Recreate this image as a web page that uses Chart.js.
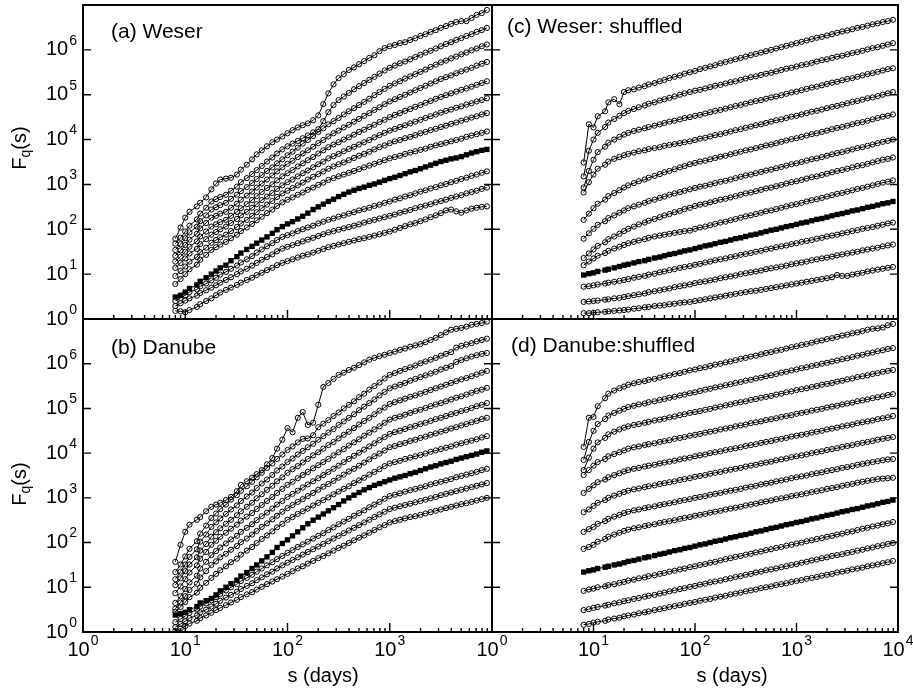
<!DOCTYPE html>
<html lang="en">
<head>
<meta charset="UTF-8" />
<title>Fq(s) - Weser / Danube</title>
<script src="https://cdn.jsdelivr.net/npm/chart.js@4.4.1/dist/chart.umd.min.js"></script>
<style>
    body { margin: 0; background: #fff; }
    #wrap { position: relative; width: 913px; height: 693px; }
    #wrap canvas { position: absolute; left: 0; top: 0; }
</style>
</head>
<body>
<div id="wrap">
    <canvas id="pa" width="913" height="693"></canvas>
    <canvas id="pb" width="913" height="693"></canvas>
    <canvas id="pc" width="913" height="693"></canvas>
    <canvas id="pd" width="913" height="693"></canvas>
</div>
<script>
// === Data ===
// window size s (days), same for every curve
const S_DAYS = [8, 9, 10, 11, 13, 14, 16, 18, 20, 22, 25, 28, 32, 35, 40, 45, 50, 56, 63, 71,
    79, 89, 100, 112, 126, 141, 158, 178, 200, 224, 251, 282, 316, 355, 398, 447, 501, 562, 631, 708,
    794, 891, 1000, 1122, 1259, 1413, 1585, 1778, 1995, 2239, 2512, 2818, 3162, 3548, 3981, 4467, 5012,
    5623, 6310, 7079, 7943, 8913];

// All curves are log10 Fq(s) (curves are shifted vertically as in the figure).
// Open-circle curves listed top to bottom; the filled-square curve is kept apart.

// (a) Weser
const weserCircles = [
    [1.79,2.04,2.26,2.39,2.51,2.59,2.71,2.89,3.02,3.11,3.13,3.15,3.22,3.33,3.44,3.56,3.67,3.76,3.85,3.94,4.00,4.07,4.14,4.21,4.27,4.32,4.36,4.43,4.54,4.79,5.03,5.23,5.37,5.46,5.55,5.61,5.68,5.75,5.82,5.88,5.97,6.04,6.08,6.11,6.15,6.17,6.22,6.26,6.31,6.35,6.40,6.44,6.49,6.53,6.58,6.62,6.64,6.64,6.71,6.78,6.82,6.89],
    [1.68,1.81,1.95,2.08,2.22,2.35,2.48,2.62,2.67,2.72,2.77,2.86,2.95,3.05,3.14,3.23,3.32,3.41,3.51,3.60,3.69,3.78,3.85,3.91,3.97,4.03,4.09,4.16,4.23,4.41,4.61,4.77,4.88,4.96,5.04,5.12,5.19,5.26,5.33,5.40,5.47,5.54,5.60,5.65,5.70,5.74,5.79,5.84,5.89,5.94,5.98,6.03,6.08,6.13,6.17,6.22,6.26,6.31,6.35,6.40,6.44,6.49],
    [1.54,1.67,1.80,1.93,2.06,2.18,2.31,2.44,2.49,2.54,2.59,2.68,2.77,2.85,2.94,3.03,3.12,3.21,3.30,3.38,3.47,3.56,3.65,3.73,3.82,3.91,3.99,4.08,4.17,4.25,4.34,4.41,4.48,4.56,4.63,4.70,4.77,4.84,4.91,4.99,5.06,5.13,5.20,5.25,5.30,5.36,5.41,5.46,5.51,5.56,5.62,5.67,5.72,5.76,5.81,5.85,5.90,5.94,5.99,6.03,6.08,6.12],
    [1.41,1.53,1.65,1.77,1.90,2.02,2.14,2.26,2.30,2.35,2.39,2.48,2.57,2.66,2.75,2.84,2.93,3.02,3.11,3.20,3.29,3.38,3.46,3.53,3.61,3.69,3.76,3.84,3.92,3.99,4.07,4.14,4.20,4.27,4.33,4.40,4.46,4.53,4.59,4.66,4.72,4.79,4.85,4.90,4.95,5.00,5.05,5.10,5.15,5.20,5.25,5.30,5.35,5.39,5.43,5.48,5.52,5.56,5.60,5.65,5.69,5.73],
    [1.28,1.39,1.50,1.61,1.73,1.84,1.95,2.06,2.11,2.16,2.21,2.30,2.39,2.47,2.56,2.65,2.74,2.83,2.92,3.00,3.09,3.18,3.25,3.32,3.40,3.47,3.54,3.61,3.69,3.76,3.83,3.89,3.94,4.00,4.05,4.11,4.17,4.22,4.28,4.33,4.39,4.44,4.50,4.55,4.59,4.64,4.68,4.73,4.77,4.82,4.86,4.91,4.95,4.99,5.03,5.07,5.11,5.14,5.18,5.22,5.26,5.30],
    [1.14,1.25,1.35,1.46,1.56,1.67,1.78,1.88,1.94,2.00,2.06,2.14,2.23,2.31,2.39,2.48,2.56,2.65,2.73,2.81,2.90,2.98,3.05,3.11,3.18,3.25,3.31,3.38,3.45,3.51,3.58,3.63,3.68,3.74,3.79,3.84,3.89,3.94,3.99,4.05,4.10,4.15,4.20,4.24,4.28,4.32,4.36,4.40,4.44,4.48,4.52,4.56,4.60,4.64,4.67,4.71,4.74,4.78,4.81,4.85,4.88,4.92],
    [0.96,1.07,1.17,1.28,1.38,1.49,1.59,1.70,1.76,1.82,1.88,1.96,2.05,2.13,2.21,2.30,2.38,2.47,2.55,2.63,2.72,2.80,2.86,2.92,2.98,3.04,3.11,3.17,3.23,3.29,3.35,3.40,3.45,3.49,3.54,3.59,3.64,3.68,3.73,3.78,3.83,3.87,3.92,3.96,3.99,4.03,4.06,4.10,4.14,4.17,4.21,4.24,4.28,4.31,4.35,4.38,4.42,4.45,4.49,4.52,4.56,4.59],
    [0.78,0.89,1.00,1.11,1.21,1.32,1.43,1.54,1.60,1.66,1.72,1.80,1.88,1.96,2.04,2.12,2.20,2.28,2.36,2.44,2.52,2.60,2.66,2.71,2.77,2.82,2.88,2.93,2.99,3.04,3.10,3.14,3.18,3.22,3.26,3.30,3.34,3.38,3.42,3.46,3.50,3.54,3.58,3.61,3.64,3.68,3.71,3.74,3.77,3.80,3.84,3.87,3.90,3.93,3.96,3.99,4.02,4.06,4.09,4.12,4.15,4.18],
    [0.40,0.47,0.53,0.60,0.66,0.73,0.79,0.86,0.92,0.99,1.05,1.12,1.19,1.26,1.33,1.40,1.48,1.55,1.62,1.69,1.76,1.83,1.87,1.91,1.96,2.00,2.04,2.08,2.13,2.17,2.21,2.24,2.28,2.31,2.35,2.38,2.42,2.45,2.48,2.52,2.55,2.59,2.62,2.66,2.69,2.73,2.76,2.80,2.84,2.87,2.91,2.94,2.98,3.01,3.05,3.08,3.12,3.15,3.19,3.22,3.26,3.29],
    [0.29,0.35,0.41,0.46,0.52,0.58,0.64,0.70,0.75,0.81,0.87,0.93,1.00,1.06,1.12,1.19,1.25,1.32,1.38,1.44,1.51,1.57,1.61,1.65,1.69,1.73,1.77,1.81,1.85,1.89,1.93,1.96,1.99,2.02,2.05,2.08,2.11,2.15,2.18,2.21,2.24,2.27,2.30,2.33,2.37,2.40,2.43,2.47,2.50,2.53,2.56,2.60,2.63,2.66,2.70,2.73,2.76,2.80,2.83,2.86,2.90,2.93],
    [0.18,0.17,0.15,0.20,0.27,0.33,0.40,0.46,0.53,0.59,0.65,0.70,0.76,0.81,0.87,0.92,0.98,1.03,1.09,1.14,1.20,1.25,1.29,1.33,1.37,1.41,1.44,1.48,1.52,1.56,1.60,1.63,1.66,1.69,1.72,1.75,1.78,1.80,1.83,1.86,1.89,1.92,1.95,1.99,2.03,2.07,2.11,2.14,2.18,2.22,2.27,2.31,2.36,2.42,2.44,2.40,2.37,2.42,2.46,2.48,2.50,2.51]
];
const weserSquares = [0.49,0.53,0.60,0.68,0.76,0.84,0.92,1.00,1.07,1.14,1.20,1.30,1.39,1.47,1.55,1.62,1.69,1.76,1.83,1.91,1.99,2.06,2.12,2.17,2.23,2.29,2.36,2.44,2.50,2.56,2.62,2.67,2.73,2.78,2.83,2.87,2.91,2.94,2.98,3.01,3.05,3.09,3.13,3.16,3.20,3.24,3.28,3.31,3.35,3.39,3.43,3.47,3.51,3.54,3.57,3.59,3.62,3.66,3.70,3.73,3.76,3.78];

// (b) Danube
const danubeCircles = [
    [1.57,1.95,2.24,2.40,2.51,2.57,2.70,2.80,2.85,2.89,2.95,3.02,3.15,3.29,3.37,3.45,3.53,3.62,3.75,3.89,4.10,4.30,4.56,4.47,4.79,4.92,4.63,4.68,5.08,5.48,5.57,5.66,5.75,5.80,5.86,5.91,5.97,6.03,6.09,6.13,6.17,6.20,6.24,6.27,6.31,6.34,6.38,6.41,6.44,6.48,6.53,6.58,6.64,6.70,6.76,6.78,6.80,6.83,6.87,6.89,6.91,6.94],
    [1.34,1.51,1.69,1.86,2.03,2.20,2.38,2.55,2.65,2.75,2.85,2.96,3.06,3.16,3.26,3.36,3.46,3.56,3.67,3.77,3.87,3.97,4.07,4.15,4.24,4.32,4.33,4.40,4.58,4.66,4.74,4.83,4.91,5.00,5.08,5.16,5.25,5.33,5.42,5.50,5.58,5.67,5.75,5.79,5.84,5.88,5.92,5.96,6.01,6.05,6.09,6.13,6.18,6.22,6.26,6.36,6.40,6.43,6.46,6.50,6.53,6.56],
    [1.18,1.35,1.51,1.68,1.85,2.02,2.18,2.35,2.45,2.54,2.64,2.74,2.83,2.93,3.03,3.12,3.22,3.32,3.41,3.51,3.61,3.70,3.80,3.88,3.97,4.05,4.13,4.21,4.30,4.38,4.46,4.54,4.63,4.71,4.79,4.87,4.96,5.04,5.12,5.20,5.29,5.37,5.45,5.49,5.53,5.57,5.62,5.66,5.70,5.74,5.78,5.82,5.87,5.91,5.95,6.04,6.08,6.12,6.16,6.19,6.22,6.24],
    [1.05,1.20,1.36,1.51,1.67,1.82,1.97,2.13,2.23,2.32,2.42,2.51,2.61,2.70,2.80,2.89,2.99,3.08,3.18,3.27,3.37,3.46,3.56,3.64,3.71,3.79,3.87,3.95,4.02,4.10,4.18,4.25,4.33,4.41,4.48,4.56,4.64,4.72,4.79,4.87,4.95,5.02,5.10,5.14,5.18,5.22,5.26,5.29,5.33,5.37,5.41,5.45,5.49,5.53,5.57,5.61,5.65,5.68,5.72,5.76,5.80,5.84],
    [0.87,1.02,1.18,1.33,1.49,1.64,1.79,1.95,2.04,2.13,2.22,2.31,2.40,2.49,2.58,2.66,2.75,2.84,2.93,3.02,3.11,3.20,3.29,3.36,3.44,3.51,3.58,3.66,3.73,3.80,3.87,3.95,4.02,4.09,4.17,4.24,4.31,4.39,4.46,4.53,4.60,4.68,4.75,4.79,4.82,4.86,4.90,4.94,4.97,5.01,5.05,5.09,5.12,5.16,5.20,5.24,5.27,5.31,5.35,5.39,5.42,5.46],
    [0.65,0.80,0.96,1.11,1.26,1.42,1.57,1.72,1.81,1.89,1.98,2.07,2.15,2.24,2.33,2.41,2.50,2.59,2.67,2.76,2.85,2.93,3.02,3.09,3.16,3.23,3.30,3.37,3.44,3.51,3.58,3.65,3.72,3.80,3.87,3.94,4.01,4.08,4.15,4.22,4.29,4.36,4.43,4.47,4.50,4.54,4.58,4.61,4.65,4.68,4.72,4.76,4.79,4.83,4.87,4.90,4.94,4.97,5.01,5.05,5.08,5.12],
    [0.52,0.66,0.80,0.94,1.08,1.22,1.36,1.50,1.58,1.67,1.75,1.84,1.92,2.01,2.09,2.18,2.26,2.35,2.43,2.52,2.60,2.69,2.77,2.84,2.91,2.97,3.04,3.11,3.18,3.25,3.31,3.38,3.45,3.52,3.59,3.65,3.72,3.79,3.86,3.93,3.99,4.06,4.13,4.16,4.20,4.23,4.27,4.30,4.34,4.37,4.41,4.44,4.48,4.51,4.55,4.58,4.62,4.65,4.69,4.72,4.76,4.79],
    [0.45,0.56,0.67,0.78,0.88,0.99,1.10,1.21,1.30,1.38,1.47,1.56,1.64,1.73,1.82,1.90,1.99,2.08,2.16,2.25,2.34,2.42,2.51,2.57,2.64,2.70,2.76,2.83,2.89,2.95,3.01,3.08,3.14,3.20,3.26,3.33,3.39,3.45,3.52,3.58,3.64,3.71,3.77,3.80,3.83,3.87,3.90,3.93,3.96,3.99,4.03,4.06,4.09,4.12,4.15,4.19,4.22,4.25,4.28,4.31,4.35,4.38],
    [0.22,0.29,0.36,0.43,0.50,0.57,0.64,0.71,0.78,0.85,0.93,1.00,1.07,1.14,1.21,1.28,1.35,1.42,1.49,1.56,1.63,1.70,1.77,1.83,1.90,1.96,2.02,2.09,2.15,2.21,2.28,2.34,2.41,2.47,2.53,2.60,2.66,2.72,2.79,2.85,2.91,2.98,3.04,3.07,3.10,3.14,3.17,3.20,3.23,3.26,3.30,3.33,3.36,3.39,3.42,3.46,3.49,3.52,3.55,3.58,3.62,3.65],
    [0.11,0.18,0.24,0.31,0.37,0.44,0.50,0.57,0.63,0.70,0.77,0.83,0.90,0.96,1.03,1.09,1.16,1.22,1.29,1.35,1.42,1.49,1.55,1.61,1.67,1.73,1.79,1.85,1.91,1.97,2.03,2.09,2.15,2.21,2.27,2.33,2.39,2.45,2.51,2.57,2.63,2.69,2.75,2.78,2.81,2.84,2.87,2.90,2.93,2.96,2.99,3.02,3.06,3.09,3.12,3.15,3.18,3.21,3.24,3.27,3.30,3.33],
    [0.02,0.08,0.13,0.19,0.25,0.31,0.37,0.43,0.49,0.54,0.60,0.66,0.72,0.78,0.84,0.89,0.95,1.01,1.07,1.13,1.18,1.24,1.30,1.36,1.42,1.47,1.53,1.59,1.65,1.70,1.76,1.82,1.88,1.93,1.99,2.05,2.11,2.16,2.22,2.28,2.34,2.39,2.45,2.48,2.51,2.54,2.57,2.59,2.62,2.65,2.68,2.71,2.74,2.77,2.80,2.83,2.86,2.88,2.91,2.94,2.97,3.00]
];
const danubeSquares = [0.38,0.41,0.44,0.50,0.57,0.65,0.70,0.75,0.83,0.92,1.00,1.08,1.16,1.25,1.33,1.42,1.50,1.59,1.68,1.78,1.89,1.98,2.06,2.15,2.24,2.33,2.42,2.50,2.57,2.64,2.71,2.78,2.85,2.93,3.00,3.06,3.12,3.18,3.23,3.28,3.32,3.36,3.40,3.44,3.47,3.50,3.54,3.57,3.61,3.65,3.69,3.72,3.76,3.79,3.82,3.86,3.89,3.92,3.95,3.98,4.02,4.05];

// (c) Weser: shuffled
const weserShufCircles = [
    [3.49,4.34,4.27,4.52,4.63,4.83,4.90,4.79,5.06,5.10,5.12,5.16,5.19,5.23,5.26,5.30,5.33,5.37,5.40,5.43,5.47,5.50,5.53,5.57,5.60,5.63,5.66,5.70,5.73,5.76,5.79,5.82,5.85,5.88,5.91,5.94,5.97,6.00,6.03,6.06,6.09,6.12,6.15,6.18,6.21,6.24,6.27,6.29,6.32,6.35,6.38,6.41,6.43,6.46,6.49,6.51,6.54,6.57,6.59,6.62,6.64,6.67],
    [3.18,3.75,4.00,4.15,4.28,4.38,4.46,4.53,4.59,4.64,4.68,4.72,4.76,4.80,4.83,4.87,4.90,4.93,4.96,5.00,5.03,5.06,5.09,5.11,5.14,5.17,5.20,5.22,5.25,5.28,5.30,5.33,5.36,5.39,5.41,5.44,5.47,5.49,5.52,5.55,5.58,5.60,5.63,5.66,5.68,5.71,5.74,5.77,5.79,5.82,5.85,5.87,5.90,5.93,5.95,5.98,6.01,6.04,6.06,6.09,6.12,6.15],
    [2.93,3.30,3.55,3.72,3.84,3.93,4.00,4.06,4.11,4.15,4.19,4.22,4.25,4.28,4.31,4.34,4.37,4.40,4.42,4.45,4.48,4.50,4.53,4.55,4.58,4.61,4.64,4.66,4.69,4.72,4.75,4.77,4.80,4.83,4.86,4.88,4.91,4.94,4.96,4.99,5.02,5.05,5.07,5.10,5.13,5.16,5.18,5.21,5.24,5.27,5.29,5.32,5.35,5.37,5.40,5.43,5.46,5.48,5.51,5.54,5.57,5.59],
    [2.82,3.05,3.22,3.35,3.44,3.51,3.57,3.61,3.65,3.68,3.71,3.74,3.76,3.79,3.81,3.83,3.86,3.88,3.90,3.92,3.94,3.96,3.99,4.02,4.04,4.07,4.10,4.12,4.15,4.18,4.21,4.23,4.26,4.29,4.32,4.34,4.37,4.40,4.43,4.45,4.48,4.51,4.53,4.56,4.59,4.62,4.64,4.67,4.70,4.73,4.75,4.78,4.81,4.84,4.86,4.89,4.92,4.94,4.97,5.00,5.03,5.06],
    [2.21,2.35,2.47,2.57,2.66,2.74,2.81,2.87,2.93,2.98,3.03,3.07,3.11,3.15,3.19,3.23,3.27,3.30,3.34,3.38,3.41,3.45,3.48,3.51,3.53,3.56,3.59,3.62,3.64,3.67,3.70,3.73,3.76,3.78,3.81,3.84,3.87,3.89,3.92,3.95,3.98,4.01,4.03,4.06,4.09,4.12,4.14,4.17,4.20,4.23,4.26,4.28,4.31,4.34,4.37,4.39,4.42,4.45,4.48,4.51,4.53,4.56],
    [1.79,1.91,2.01,2.10,2.18,2.25,2.31,2.37,2.42,2.47,2.51,2.55,2.59,2.63,2.66,2.70,2.73,2.77,2.80,2.83,2.86,2.89,2.92,2.95,2.97,3.00,3.03,3.06,3.08,3.11,3.14,3.17,3.20,3.22,3.25,3.28,3.31,3.33,3.36,3.39,3.42,3.45,3.47,3.50,3.53,3.56,3.58,3.61,3.64,3.67,3.70,3.72,3.75,3.78,3.81,3.83,3.86,3.89,3.92,3.95,3.97,4.00],
    [1.36,1.46,1.55,1.63,1.71,1.78,1.84,1.90,1.96,2.01,2.06,2.11,2.15,2.19,2.23,2.27,2.31,2.34,2.38,2.41,2.45,2.48,2.52,2.55,2.57,2.60,2.63,2.66,2.68,2.71,2.74,2.77,2.80,2.82,2.85,2.88,2.91,2.93,2.96,2.99,3.02,3.05,3.07,3.10,3.13,3.16,3.18,3.21,3.24,3.27,3.30,3.32,3.35,3.38,3.41,3.43,3.46,3.49,3.52,3.55,3.57,3.60],
    [1.20,1.28,1.35,1.41,1.47,1.52,1.57,1.61,1.65,1.69,1.72,1.75,1.78,1.81,1.84,1.86,1.88,1.90,1.92,1.94,1.96,1.97,2.01,2.04,2.06,2.09,2.12,2.15,2.17,2.20,2.23,2.26,2.29,2.31,2.34,2.37,2.40,2.42,2.45,2.48,2.51,2.54,2.56,2.59,2.62,2.65,2.67,2.70,2.73,2.76,2.79,2.81,2.84,2.87,2.90,2.92,2.95,2.98,3.01,3.04,3.06,3.09],
    [0.72,0.73,0.75,0.77,0.79,0.81,0.83,0.85,0.87,0.89,0.92,0.94,0.96,0.99,1.01,1.04,1.06,1.09,1.11,1.14,1.16,1.18,1.21,1.23,1.26,1.28,1.31,1.33,1.35,1.38,1.40,1.43,1.45,1.47,1.50,1.52,1.55,1.57,1.60,1.62,1.64,1.67,1.69,1.72,1.74,1.76,1.79,1.81,1.84,1.86,1.88,1.91,1.93,1.96,1.98,2.01,2.03,2.05,2.08,2.10,2.13,2.15],
    [0.38,0.39,0.40,0.41,0.43,0.44,0.46,0.47,0.49,0.51,0.53,0.55,0.57,0.60,0.62,0.64,0.66,0.68,0.71,0.73,0.75,0.77,0.80,0.82,0.84,0.86,0.88,0.91,0.93,0.95,0.97,1.00,1.02,1.04,1.06,1.08,1.11,1.13,1.15,1.17,1.19,1.22,1.24,1.26,1.28,1.31,1.33,1.35,1.37,1.39,1.42,1.44,1.46,1.48,1.50,1.53,1.55,1.57,1.59,1.62,1.64,1.66],
    [0.13,0.13,0.14,0.15,0.16,0.17,0.18,0.19,0.20,0.21,0.23,0.24,0.26,0.27,0.29,0.30,0.31,0.33,0.34,0.36,0.37,0.38,0.40,0.42,0.44,0.46,0.48,0.50,0.52,0.54,0.56,0.58,0.60,0.62,0.63,0.65,0.67,0.69,0.71,0.73,0.75,0.77,0.79,0.81,0.83,0.85,0.87,0.89,0.91,0.93,0.98,0.96,0.96,0.99,1.01,1.03,1.06,1.08,1.10,1.12,1.14,1.16]
];
const weserShufSquares = [0.98,1.01,1.03,1.06,1.09,1.11,1.14,1.17,1.20,1.22,1.25,1.28,1.30,1.33,1.36,1.38,1.41,1.44,1.46,1.49,1.52,1.54,1.57,1.60,1.63,1.65,1.68,1.71,1.73,1.76,1.79,1.81,1.84,1.87,1.89,1.92,1.95,1.98,2.00,2.03,2.06,2.08,2.11,2.14,2.16,2.19,2.22,2.24,2.27,2.30,2.33,2.35,2.38,2.41,2.43,2.46,2.49,2.51,2.54,2.57,2.59,2.62];

// (d) Danube: shuffled
const danubeShufCircles = [
    [4.14,4.79,4.81,5.05,5.23,5.33,5.40,5.45,5.49,5.53,5.56,5.59,5.61,5.64,5.66,5.69,5.72,5.74,5.77,5.79,5.82,5.85,5.87,5.90,5.92,5.95,5.98,6.00,6.03,6.05,6.08,6.11,6.13,6.16,6.18,6.21,6.24,6.26,6.29,6.31,6.34,6.37,6.39,6.42,6.44,6.47,6.50,6.52,6.55,6.57,6.60,6.63,6.65,6.68,6.70,6.73,6.76,6.78,6.79,6.81,6.86,6.89],
    [3.85,4.25,4.50,4.65,4.76,4.84,4.90,4.95,4.99,5.03,5.06,5.09,5.11,5.14,5.16,5.19,5.21,5.24,5.26,5.29,5.31,5.34,5.36,5.39,5.42,5.44,5.47,5.49,5.52,5.54,5.57,5.59,5.62,5.64,5.67,5.69,5.72,5.74,5.77,5.80,5.82,5.85,5.87,5.90,5.92,5.95,5.97,6.00,6.02,6.05,6.07,6.10,6.12,6.15,6.18,6.20,6.23,6.25,6.28,6.30,6.33,6.35],
    [3.62,3.90,4.10,4.24,4.34,4.42,4.48,4.53,4.57,4.60,4.63,4.65,4.68,4.70,4.73,4.75,4.77,4.80,4.82,4.85,4.87,4.90,4.92,4.94,4.97,4.99,5.02,5.04,5.07,5.09,5.12,5.14,5.16,5.19,5.21,5.24,5.26,5.28,5.31,5.33,5.36,5.38,5.41,5.43,5.45,5.48,5.50,5.53,5.55,5.57,5.60,5.62,5.65,5.67,5.70,5.72,5.74,5.77,5.79,5.82,5.84,5.86],
    [3.51,3.62,3.72,3.80,3.87,3.93,3.98,4.02,4.06,4.10,4.13,4.15,4.18,4.20,4.22,4.25,4.27,4.29,4.32,4.34,4.36,4.39,4.41,4.43,4.46,4.48,4.50,4.53,4.55,4.57,4.60,4.62,4.64,4.67,4.69,4.71,4.74,4.76,4.78,4.81,4.83,4.85,4.88,4.90,4.92,4.95,4.97,4.99,5.02,5.04,5.06,5.09,5.11,5.13,5.16,5.18,5.20,5.23,5.25,5.27,5.30,5.32],
    [3.11,3.20,3.28,3.35,3.41,3.46,3.51,3.55,3.59,3.62,3.65,3.67,3.70,3.72,3.74,3.77,3.79,3.81,3.83,3.86,3.88,3.90,3.93,3.95,3.97,4.00,4.02,4.04,4.07,4.09,4.11,4.13,4.16,4.18,4.20,4.23,4.25,4.27,4.30,4.32,4.34,4.37,4.39,4.41,4.43,4.46,4.48,4.50,4.53,4.55,4.57,4.60,4.62,4.64,4.67,4.69,4.71,4.73,4.76,4.78,4.80,4.83],
    [2.68,2.74,2.82,2.89,2.95,3.00,3.05,3.09,3.13,3.16,3.19,3.21,3.24,3.26,3.28,3.31,3.33,3.35,3.37,3.40,3.42,3.44,3.47,3.49,3.51,3.54,3.56,3.58,3.61,3.63,3.65,3.67,3.70,3.72,3.74,3.77,3.79,3.81,3.84,3.86,3.88,3.91,3.93,3.95,3.97,4.00,4.02,4.04,4.07,4.09,4.11,4.14,4.16,4.18,4.21,4.23,4.25,4.27,4.30,4.32,4.34,4.36],
    [2.24,2.30,2.35,2.42,2.48,2.53,2.58,2.62,2.66,2.69,2.72,2.74,2.77,2.79,2.81,2.84,2.86,2.88,2.90,2.93,2.95,2.97,3.00,3.02,3.04,3.07,3.09,3.11,3.14,3.16,3.18,3.20,3.23,3.25,3.27,3.30,3.32,3.34,3.37,3.39,3.41,3.44,3.46,3.48,3.50,3.53,3.55,3.57,3.60,3.62,3.64,3.67,3.69,3.71,3.74,3.76,3.78,3.80,3.82,3.84,3.86,3.87],
    [1.86,1.90,1.95,2.02,2.08,2.13,2.18,2.22,2.26,2.29,2.32,2.34,2.37,2.39,2.41,2.44,2.46,2.48,2.50,2.53,2.55,2.57,2.60,2.62,2.64,2.67,2.69,2.71,2.74,2.76,2.78,2.80,2.83,2.85,2.87,2.90,2.92,2.94,2.97,2.99,3.01,3.04,3.06,3.08,3.10,3.13,3.15,3.17,3.20,3.22,3.24,3.27,3.29,3.31,3.34,3.36,3.38,3.40,3.42,3.43,3.44,3.45],
    [0.92,0.95,0.97,1.00,1.02,1.05,1.07,1.10,1.12,1.15,1.17,1.20,1.22,1.25,1.27,1.30,1.32,1.35,1.37,1.40,1.42,1.45,1.47,1.50,1.52,1.55,1.57,1.60,1.63,1.65,1.68,1.70,1.73,1.75,1.78,1.80,1.83,1.85,1.88,1.90,1.93,1.95,1.98,2.00,2.03,2.05,2.08,2.10,2.13,2.15,2.18,2.20,2.23,2.25,2.28,2.31,2.33,2.36,2.38,2.41,2.43,2.46],
    [0.49,0.51,0.54,0.56,0.59,0.61,0.64,0.66,0.69,0.71,0.74,0.76,0.79,0.81,0.83,0.86,0.88,0.91,0.93,0.96,0.98,1.01,1.03,1.06,1.08,1.11,1.13,1.15,1.18,1.20,1.23,1.25,1.28,1.30,1.33,1.35,1.38,1.40,1.42,1.45,1.47,1.50,1.52,1.55,1.57,1.60,1.62,1.65,1.67,1.70,1.72,1.74,1.77,1.79,1.82,1.84,1.87,1.89,1.92,1.94,1.97,1.99],
    [0.16,0.18,0.21,0.23,0.25,0.28,0.30,0.32,0.35,0.37,0.39,0.42,0.44,0.46,0.49,0.51,0.53,0.56,0.58,0.60,0.63,0.65,0.67,0.70,0.72,0.74,0.77,0.79,0.81,0.84,0.86,0.88,0.91,0.93,0.95,0.98,1.00,1.02,1.05,1.07,1.09,1.12,1.14,1.16,1.19,1.21,1.23,1.26,1.28,1.30,1.33,1.35,1.37,1.40,1.42,1.44,1.47,1.49,1.51,1.54,1.56,1.59]
];
const danubeShufSquares = [1.34,1.37,1.39,1.42,1.45,1.47,1.50,1.52,1.55,1.58,1.60,1.63,1.66,1.68,1.71,1.74,1.76,1.79,1.82,1.84,1.87,1.89,1.92,1.95,1.97,2.00,2.03,2.05,2.08,2.11,2.13,2.16,2.18,2.21,2.24,2.26,2.29,2.32,2.34,2.37,2.40,2.42,2.45,2.47,2.50,2.53,2.55,2.58,2.61,2.63,2.66,2.69,2.71,2.74,2.76,2.79,2.82,2.84,2.87,2.90,2.92,2.95];

// axis decades (exponents) and minor tick multipliers
const X_DECADES = [0, 1, 2, 3, 4];
const Y_DECADES = [0, 1, 2, 3, 4, 5, 6, 7];
const MINOR = [2, 3, 4, 5, 6, 7, 8, 9];

// === Drawing helpers ===
const FONT = '"Liberation Sans", Arial, Helvetica, sans-serif';

// "10" with a raised exponent; align 'center' or 'right' at x
function powLabel(ctx, exp, x, y, align) {
    ctx.font = '20px ' + FONT;
    const wb = ctx.measureText('10').width;
    ctx.font = '14px ' + FONT;
    const we = ctx.measureText(String(exp)).width;
    const left = align === 'right' ? x - wb - we - 1 : x - (wb + we + 1) / 2;
    ctx.textAlign = 'left';
    ctx.textBaseline = 'middle';
    ctx.font = '20px ' + FONT;
    ctx.fillText('10', left, y);
    ctx.font = '14px ' + FONT;
    ctx.fillText(String(exp), left + wb + 1, y - 9);
}

// rotated "Fq(s)" centred on (cx, cy)
function yTitle(ctx, cx, cy) {
    ctx.save();
    ctx.translate(cx, cy);
    ctx.rotate(-Math.PI / 2);
    ctx.textBaseline = 'middle';
    ctx.textAlign = 'left';
    ctx.font = '20px ' + FONT;
    const wF = ctx.measureText('F').width, wS = ctx.measureText('(s)').width;
    ctx.font = '14px ' + FONT;
    const wq = ctx.measureText('q').width;
    let x0 = -(wF + wq + wS) / 2;
    ctx.font = '20px ' + FONT;
    ctx.fillText('F', x0, 0);
    ctx.font = '14px ' + FONT;
    ctx.fillText('q', x0 + wF, 6);
    ctx.font = '20px ' + FONT;
    ctx.fillText('(s)', x0 + wF + wq, 0);
    ctx.restore();
}

const framePlugin = {
    id: 'frame',
    afterDraw(chart, args, o) {
        const { ctx, chartArea: a } = chart;
        const xs = chart.scales.x, ys = chart.scales.y;
        ctx.save();
        ctx.strokeStyle = '#000';
        ctx.fillStyle = '#000';

        // ticks, all pointing into the panel
        ctx.lineWidth = 1.4;
        ctx.beginPath();
        Y_DECADES.forEach((e) => {
            const py = ys.getPixelForValue(Math.pow(10, e));
            ctx.moveTo(a.left, py); ctx.lineTo(a.left + 8, py);
            ctx.moveTo(a.right, py); ctx.lineTo(a.right - 8, py);
        });
        X_DECADES.forEach((e) => {
            const px = xs.getPixelForValue(Math.pow(10, e));
            ctx.moveTo(px, a.bottom); ctx.lineTo(px, a.bottom - 9);
            if (e === 4) return;
            MINOR.forEach((m) => {
                const pm = xs.getPixelForValue(m * Math.pow(10, e));
                ctx.moveTo(pm, a.bottom); ctx.lineTo(pm, a.bottom - 4);
            });
        });
        ctx.stroke();

        // frame
        ctx.lineWidth = 2;
        ctx.strokeRect(a.left, a.top, a.right - a.left, a.bottom - a.top);

        // tick labels
        if (o.yLabels) {
            Y_DECADES.forEach((e) => {
                if (e > 6) return;
                powLabel(ctx, e, a.left - 6, ys.getPixelForValue(Math.pow(10, e)), 'right');
            });
            yTitle(ctx, o.yTitleX, o.yTitleY);
        }
        (o.xLabels || []).forEach((e) => {
            powLabel(ctx, e, xs.getPixelForValue(Math.pow(10, e)), 650, 'center');
        });
        if (o.xTitleX) {
            ctx.font = '20px ' + FONT;
            ctx.textAlign = 'center';
            ctx.textBaseline = 'middle';
            ctx.fillText('s (days)', o.xTitleX, 676);
        }

        // panel title
        ctx.font = '21px ' + FONT;
        ctx.textAlign = 'left';
        ctx.textBaseline = 'alphabetic';
        ctx.fillText(o.title, o.titleX, o.titleY);
        ctx.restore();
    }
};

function toPoints(logs) {
    return S_DAYS.map((s, i) => ({ x: s, y: Math.pow(10, logs[i]) }));
}

function makePanel(id, area, circles, squares, frameOpts) {
    const datasets = circles.map((row) => ({
        data: toPoints(row),
        borderColor: '#000',
        borderWidth: 1,
        pointStyle: 'circle',
        pointRadius: 2.6,
        pointBorderWidth: 1,
        pointBorderColor: '#000',
        pointBackgroundColor: 'rgba(0,0,0,0)'
    }));
    datasets.push({
        data: toPoints(squares),
        borderColor: '#000',
        borderWidth: 1,
        pointStyle: 'rect',
        pointRadius: 3.8,
        pointBorderWidth: 0,
        pointBackgroundColor: '#000'
    });

    new Chart(document.getElementById(id), {
        type: 'line',
        data: { datasets },
        options: {
            responsive: false,
            animation: false,
            devicePixelRatio: 1,
            events: [],
            layout: {
                padding: { left: area[0], top: area[1], right: 913 - area[2], bottom: 693 - area[3] }
            },
            scales: {
                x: { type: 'logarithmic', min: 1, max: 1e4, display: false },
                y: { type: 'logarithmic', min: 1, max: 1e7, display: false }
            },
            plugins: {
                legend: { display: false },
                tooltip: { enabled: false },
                frame: frameOpts
            }
        },
        plugins: [framePlugin]
    });
}

makePanel('pa', [83, 5, 492, 319], weserCircles, weserSquares,
    { title: '(a) Weser', titleX: 111, titleY: 38, yLabels: true, yTitleX: 20, yTitleY: 148 });
makePanel('pb', [83, 319, 492, 632], danubeCircles, danubeSquares,
    { title: '(b) Danube', titleX: 111, titleY: 354, yLabels: true, yTitleX: 20, yTitleY: 484,
      xLabels: [0, 1, 2, 3], xTitleX: 323 });
makePanel('pc', [492, 5, 898, 319], weserShufCircles, weserShufSquares,
    { title: '(c) Weser: shuffled', titleX: 507, titleY: 33 });
makePanel('pd', [492, 319, 898, 632], danubeShufCircles, danubeShufSquares,
    { title: '(d) Danube:shuffled', titleX: 511, titleY: 352, xLabels: [0, 1, 2, 3, 4], xTitleX: 732 });
</script>
</body>
</html>
